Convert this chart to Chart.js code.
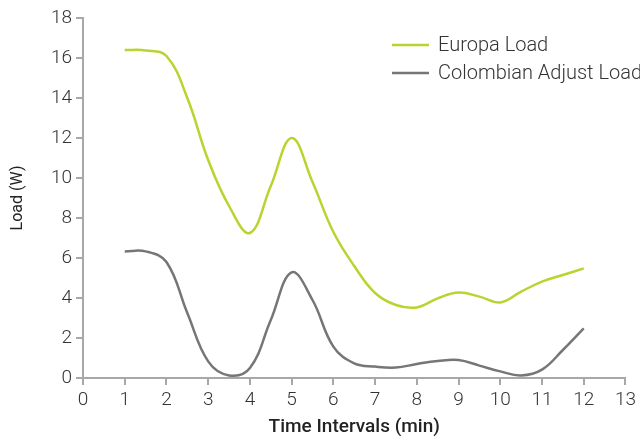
<!DOCTYPE html>
<html>
<head>
<meta charset="utf-8">
<script src="https://cdn.jsdelivr.net/npm/chart.js@4"></script>
<style>
  html, body { margin: 0; padding: 0; background: #fff; }
  #wrap { width: 640px; height: 443px; }
</style>
</head>
<body>
<div id="wrap"><canvas id="load-chart" width="640" height="443"></canvas></div>
<script>
// time steps (min) at half-minute spacing
const times = [1, 1.5, 2, 2.5, 3, 3.5, 4, 4.5, 5, 5.5, 6, 6.5, 7, 7.5, 8, 8.5, 9, 9.5, 10, 10.5, 11, 11.5, 12];
const europaLoad = [16.4, 16.38, 16.1, 14.0, 10.9, 8.6, 7.25, 9.6, 12.0, 9.8, 7.3, 5.6, 4.25, 3.65, 3.53, 3.98, 4.27, 4.07, 3.78, 4.32, 4.82, 5.15, 5.48];
const colombianLoad = [6.33, 6.33, 5.8, 3.25, 0.83, 0.13, 0.5, 2.9, 5.28, 3.9, 1.57, 0.73, 0.57, 0.52, 0.7, 0.85, 0.9, 0.62, 0.33, 0.13, 0.42, 1.4, 2.48];
const seriesNames = ['Europa Load', 'Colombian Adjust Load'];
const seriesColors = ['#b9d42f', '#76767a'];

function toPoints(values) {
    return times.map((t, i) => ({ x: t, y: values[i] }));
}

// legend drawn by hand so it can sit inside the plot and run off the right edge like the original
const legendPlugin = {
    id: 'cornerLegend',
    afterDraw(chart) {
        const ctx = chart.ctx;
        ctx.save();
        ctx.font = '300 20px Roboto';
        ctx.textBaseline = 'middle';
        seriesNames.forEach((name, i) => {
            const y = 45 + i * 28;
            ctx.strokeStyle = seriesColors[i];
            ctx.lineWidth = 2.5;
            ctx.beginPath();
            ctx.moveTo(392, y);
            ctx.lineTo(429, y);
            ctx.stroke();
            ctx.fillStyle = '#333';
            ctx.fillText(name, 438, y + 1);
        });
        ctx.restore();
    }
};

const ctx = document.getElementById('load-chart').getContext('2d');
new Chart(ctx, {
    type: 'line',
    data: {
        datasets: [
            {
                label: seriesNames[0],
                data: toPoints(europaLoad),
                borderColor: seriesColors[0],
                borderWidth: 2.5,
                pointRadius: 0,
                tension: 0.4,
                fill: false
            },
            {
                label: seriesNames[1],
                data: toPoints(colombianLoad),
                borderColor: seriesColors[1],
                borderWidth: 2.5,
                pointRadius: 0,
                tension: 0.4,
                fill: false
            }
        ]
    },
    options: {
        responsive: false,
        animation: false,
        layout: { padding: { top: 18, right: 4, left: 0, bottom: 0 } },
        plugins: {
            legend: { display: false },
            tooltip: { enabled: false }
        },
        scales: {
            x: {
                type: 'linear',
                min: 0,
                max: 13,
                ticks: { stepSize: 1, color: '#333', padding: 4, font: { family: 'Roboto', weight: '300', size: 19 } },
                grid: { drawOnChartArea: false, drawTicks: true, tickLength: 7, color: '#a8a8a8', lineWidth: 2 },
                border: { color: '#a8a8a8', width: 2 },
                title: {
                    display: true,
                    text: 'Time Intervals (min)',
                    color: '#222',
                    font: { family: 'Roboto', weight: '500', size: 19 },
                    padding: { top: 2 }
                },
                afterFit(scale) { scale.height = 65; }
            },
            y: {
                min: 0,
                max: 18,
                ticks: { stepSize: 2, color: '#333', padding: 4, font: { family: 'Roboto', weight: '300', size: 19 } },
                grid: { drawOnChartArea: false, drawTicks: true, tickLength: 7, color: '#a8a8a8', lineWidth: 2 },
                border: { color: '#a8a8a8', width: 2 },
                title: {
                    display: true,
                    text: 'Load (W)',
                    color: '#222',
                    font: { family: 'Roboto', weight: '400', size: 16 },
                    padding: { top: 8, bottom: 4 }
                },
                afterFit(scale) { scale.width = 83; }
            }
        }
    },
    plugins: [legendPlugin]
});
</script>
</body>
</html>
